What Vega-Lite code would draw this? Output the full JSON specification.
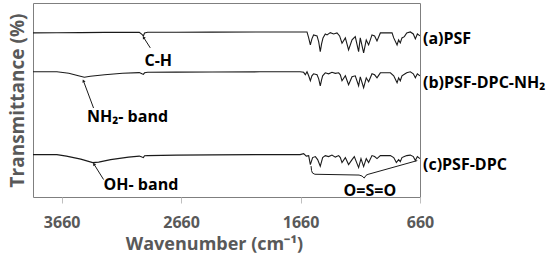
{
  "$schema": "https://vega.github.io/schema/vega-lite/v6.json",
  "width": 387,
  "height": 194,
  "autosize": {"type": "none"},
  "padding": {"left": 33, "top": 3, "right": 130, "bottom": 63},
  "background": "white",
  "config": {"view": {"stroke": "#7f7f7f", "strokeWidth": 1}, "font": "Open Sans"},
  "datasets": {
    "spectra": [
      {"s": "a", "wn": 3900, "T": 167}, {"s": "a", "wn": 3700, "T": 167.2}, {"s": "a", "wn": 3500, "T": 167.3}, {"s": "a", "wn": 3300, "T": 167.5}, {"s": "a", "wn": 3100, "T": 167.5}, {"s": "a", "wn": 3010, "T": 167.5}, {"s": "a", "wn": 2988, "T": 165.5}, {"s": "a", "wn": 2976, "T": 164}, {"s": "a", "wn": 2966, "T": 167}, {"s": "a", "wn": 2940, "T": 167.7}, {"s": "a", "wn": 2700, "T": 167.7}, {"s": "a", "wn": 2400, "T": 167.8}, {"s": "a", "wn": 2000, "T": 168}, {"s": "a", "wn": 1800, "T": 168}, {"s": "a", "wn": 1640, "T": 168}, {"s": "a", "wn": 1606, "T": 168}, {"s": "a", "wn": 1592, "T": 162}, {"s": "a", "wn": 1578, "T": 155}, {"s": "a", "wn": 1565, "T": 161}, {"s": "a", "wn": 1551, "T": 165}, {"s": "a", "wn": 1522, "T": 164}, {"s": "a", "wn": 1508, "T": 158}, {"s": "a", "wn": 1495, "T": 148.3}, {"s": "a", "wn": 1484, "T": 156}, {"s": "a", "wn": 1472, "T": 162}, {"s": "a", "wn": 1453, "T": 166}, {"s": "a", "wn": 1438, "T": 165}, {"s": "a", "wn": 1411, "T": 167.3}, {"s": "a", "wn": 1383, "T": 166}, {"s": "a", "wn": 1355, "T": 167}, {"s": "a", "wn": 1333, "T": 164}, {"s": "a", "wn": 1313, "T": 156.7}, {"s": "a", "wn": 1285, "T": 162}, {"s": "a", "wn": 1258, "T": 150}, {"s": "a", "wn": 1229, "T": 160}, {"s": "a", "wn": 1202, "T": 163.3}, {"s": "a", "wn": 1174, "T": 148.3}, {"s": "a", "wn": 1160, "T": 162}, {"s": "a", "wn": 1132, "T": 147}, {"s": "a", "wn": 1110, "T": 160}, {"s": "a", "wn": 1090, "T": 155}, {"s": "a", "wn": 1062, "T": 165}, {"s": "a", "wn": 1040, "T": 164}, {"s": "a", "wn": 1020, "T": 159}, {"s": "a", "wn": 992, "T": 167}, {"s": "a", "wn": 894, "T": 167}, {"s": "a", "wn": 880, "T": 162}, {"s": "a", "wn": 852, "T": 155}, {"s": "a", "wn": 839, "T": 160}, {"s": "a", "wn": 825, "T": 157}, {"s": "a", "wn": 811, "T": 162}, {"s": "a", "wn": 791, "T": 163.3}, {"s": "a", "wn": 771, "T": 167}, {"s": "a", "wn": 741, "T": 168}, {"s": "a", "wn": 716, "T": 166}, {"s": "a", "wn": 699, "T": 161}, {"s": "a", "wn": 682, "T": 166}, {"s": "a", "wn": 661, "T": 164},

      {"s": "b", "wn": 3900, "T": 128}, {"s": "b", "wn": 3700, "T": 128}, {"s": "b", "wn": 3600, "T": 126.5}, {"s": "b", "wn": 3520, "T": 124}, {"s": "b", "wn": 3470, "T": 122.5}, {"s": "b", "wn": 3420, "T": 123.5}, {"s": "b", "wn": 3300, "T": 125}, {"s": "b", "wn": 3150, "T": 126.5}, {"s": "b", "wn": 3010, "T": 127.2}, {"s": "b", "wn": 2988, "T": 126}, {"s": "b", "wn": 2976, "T": 125.5}, {"s": "b", "wn": 2966, "T": 127}, {"s": "b", "wn": 2940, "T": 127.5}, {"s": "b", "wn": 2700, "T": 127.7}, {"s": "b", "wn": 2400, "T": 127.8}, {"s": "b", "wn": 2000, "T": 128}, {"s": "b", "wn": 1664, "T": 128}, {"s": "b", "wn": 1634, "T": 127.5}, {"s": "b", "wn": 1620, "T": 125}, {"s": "b", "wn": 1606, "T": 128}, {"s": "b", "wn": 1592, "T": 124}, {"s": "b", "wn": 1578, "T": 119}, {"s": "b", "wn": 1565, "T": 124}, {"s": "b", "wn": 1551, "T": 126}, {"s": "b", "wn": 1522, "T": 125}, {"s": "b", "wn": 1508, "T": 121}, {"s": "b", "wn": 1495, "T": 114}, {"s": "b", "wn": 1484, "T": 120}, {"s": "b", "wn": 1475, "T": 124}, {"s": "b", "wn": 1453, "T": 127}, {"s": "b", "wn": 1425, "T": 126}, {"s": "b", "wn": 1397, "T": 127.5}, {"s": "b", "wn": 1369, "T": 126.5}, {"s": "b", "wn": 1341, "T": 127}, {"s": "b", "wn": 1327, "T": 125}, {"s": "b", "wn": 1313, "T": 119}, {"s": "b", "wn": 1285, "T": 124}, {"s": "b", "wn": 1258, "T": 115}, {"s": "b", "wn": 1229, "T": 123}, {"s": "b", "wn": 1202, "T": 124}, {"s": "b", "wn": 1174, "T": 114}, {"s": "b", "wn": 1160, "T": 123}, {"s": "b", "wn": 1132, "T": 112}, {"s": "b", "wn": 1110, "T": 122}, {"s": "b", "wn": 1090, "T": 118}, {"s": "b", "wn": 1062, "T": 126}, {"s": "b", "wn": 1040, "T": 125}, {"s": "b", "wn": 1020, "T": 122}, {"s": "b", "wn": 992, "T": 127}, {"s": "b", "wn": 908, "T": 127}, {"s": "b", "wn": 880, "T": 124}, {"s": "b", "wn": 852, "T": 117}, {"s": "b", "wn": 839, "T": 122}, {"s": "b", "wn": 825, "T": 119}, {"s": "b", "wn": 811, "T": 124}, {"s": "b", "wn": 791, "T": 125.5}, {"s": "b", "wn": 771, "T": 127}, {"s": "b", "wn": 741, "T": 128}, {"s": "b", "wn": 716, "T": 126}, {"s": "b", "wn": 699, "T": 122}, {"s": "b", "wn": 682, "T": 126}, {"s": "b", "wn": 661, "T": 124},

      {"s": "c", "wn": 3900, "T": 45}, {"s": "c", "wn": 3700, "T": 45}, {"s": "c", "wn": 3620, "T": 43.5}, {"s": "c", "wn": 3500, "T": 40.5}, {"s": "c", "wn": 3400, "T": 37}, {"s": "c", "wn": 3350, "T": 37.5}, {"s": "c", "wn": 3250, "T": 40}, {"s": "c", "wn": 3100, "T": 42.5}, {"s": "c", "wn": 3010, "T": 43.5}, {"s": "c", "wn": 2988, "T": 42.5}, {"s": "c", "wn": 2976, "T": 42}, {"s": "c", "wn": 2966, "T": 43.8}, {"s": "c", "wn": 2940, "T": 44}, {"s": "c", "wn": 2700, "T": 44.5}, {"s": "c", "wn": 2400, "T": 44.7}, {"s": "c", "wn": 2000, "T": 45}, {"s": "c", "wn": 1664, "T": 45}, {"s": "c", "wn": 1634, "T": 46}, {"s": "c", "wn": 1612, "T": 43.5}, {"s": "c", "wn": 1592, "T": 44}, {"s": "c", "wn": 1578, "T": 35}, {"s": "c", "wn": 1559, "T": 42}, {"s": "c", "wn": 1536, "T": 43}, {"s": "c", "wn": 1517, "T": 40}, {"s": "c", "wn": 1495, "T": 33.3}, {"s": "c", "wn": 1475, "T": 42}, {"s": "c", "wn": 1453, "T": 44}, {"s": "c", "wn": 1425, "T": 43}, {"s": "c", "wn": 1397, "T": 44.5}, {"s": "c", "wn": 1369, "T": 42.5}, {"s": "c", "wn": 1341, "T": 44}, {"s": "c", "wn": 1327, "T": 42}, {"s": "c", "wn": 1313, "T": 37}, {"s": "c", "wn": 1285, "T": 42}, {"s": "c", "wn": 1258, "T": 35}, {"s": "c", "wn": 1229, "T": 40}, {"s": "c", "wn": 1210, "T": 43}, {"s": "c", "wn": 1174, "T": 32}, {"s": "c", "wn": 1154, "T": 41}, {"s": "c", "wn": 1132, "T": 33}, {"s": "c", "wn": 1110, "T": 41}, {"s": "c", "wn": 1090, "T": 37}, {"s": "c", "wn": 1062, "T": 44}, {"s": "c", "wn": 1040, "T": 43}, {"s": "c", "wn": 1020, "T": 41}, {"s": "c", "wn": 992, "T": 44}, {"s": "c", "wn": 908, "T": 44}, {"s": "c", "wn": 880, "T": 42}, {"s": "c", "wn": 858, "T": 37}, {"s": "c", "wn": 839, "T": 40}, {"s": "c", "wn": 825, "T": 38}, {"s": "c", "wn": 811, "T": 42}, {"s": "c", "wn": 791, "T": 43}, {"s": "c", "wn": 771, "T": 44}, {"s": "c", "wn": 741, "T": 44.5}, {"s": "c", "wn": 716, "T": 43}, {"s": "c", "wn": 699, "T": 39}, {"s": "c", "wn": 682, "T": 43}, {"s": "c", "wn": 661, "T": 41}
    ],
    "brace": [
      {"wn": 1572, "T": 33.5}, {"wn": 1568, "T": 29}, {"wn": 1560, "T": 26.5}, {"wn": 1540, "T": 25.3}, {"wn": 1170, "T": 24.5}, {"wn": 1145, "T": 23.5}, {"wn": 1127, "T": 21.5}, {"wn": 1112, "T": 24.2}, {"wn": 1095, "T": 25.2}, {"wn": 683, "T": 39}
    ],
    "arrows": [
      {"id": "CH", "wn": 2918, "T": 152, "wn2": 2974, "T2": 162.5},
      {"id": "NH", "wn": 3393, "T": 91.7, "wn2": 3478, "T2": 119},
      {"id": "OH", "wn": 3309, "T": 20, "wn2": 3390, "T2": 35.5}
    ],
    "notesCenter": [
      {"wn": 2851, "T": 139, "label": "C-H"},
      {"wn": 1080, "T": 8.5, "label": "O=S=O"}
    ],
    "notesLeft": [
      {"wn": 3448, "T": 83, "label": "NH₂- band"},
      {"wn": 3309, "T": 15, "label": "OH- band"}
    ],
    "seriesLabels": [
      {"wn": 660, "T": 161, "label": "(a)PSF"},
      {"wn": 660, "T": 117, "label": "(b)PSF-DPC-NH₂"},
      {"wn": 660, "T": 35, "label": "(c)PSF-DPC"}
    ]
  },
  "encoding": {
    "x": {
      "field": "wn", "type": "quantitative",
      "scale": {"domain": [660, 3900], "reverse": true, "nice": false, "zero": false},
      "axis": {
        "title": "Wavenumber (cm⁻¹)", "values": [3660, 2660, 1660, 660], "format": "d",
        "grid": false, "domain": false, "ticks": true, "tickColor": "#bfbfbf", "tickSize": 6,
        "labelFlush": false, "labelOverlap": false,
        "labelFont": "Open Sans", "labelFontSize": 16, "labelFontWeight": "bold", "labelColor": "#595959", "labelPadding": 11,
        "titleFont": "Open Sans", "titleFontSize": 18, "titleFontWeight": "bold", "titleColor": "#595959", "titlePadding": 5,
        "titleAnchor": "middle", "titleX": 181
      }
    },
    "y": {
      "field": "T", "type": "quantitative",
      "scale": {"domain": [2.5, 197], "nice": false, "zero": false},
      "axis": {
        "title": "Transmittance (%)", "labels": false, "ticks": false, "domain": false, "grid": false,
        "titleFont": "Open Sans", "titleFontSize": 19, "titleFontWeight": "bold", "titleColor": "#595959", "titlePadding": 6
      }
    }
  },
  "layer": [
    {
      "data": {"name": "spectra"},
      "mark": {"type": "line", "color": "#1a1a1a", "strokeWidth": 1.1, "clip": true},
      "encoding": {"detail": {"field": "s", "type": "nominal"}}
    },
    {
      "data": {"name": "brace"},
      "mark": {"type": "line", "color": "#1a1a1a", "strokeWidth": 1},
      "encoding": {}
    },
    {
      "data": {"name": "arrows"},
      "mark": {"type": "rule", "color": "#1a1a1a", "strokeWidth": 1},
      "encoding": {"x2": {"field": "wn2"}, "y2": {"field": "T2"}}
    },
    {
      "data": {"name": "arrows"},
      "transform": [{"filter": "datum.id == 'CH'"}],
      "mark": {"type": "point", "shape": "triangle-up", "filled": true, "size": 12, "angle": 327, "color": "#1a1a1a", "opacity": 1},
      "encoding": {"x": {"field": "wn2", "type": "quantitative"}, "y": {"field": "T2", "type": "quantitative"}}
    },
    {
      "data": {"name": "arrows"},
      "transform": [{"filter": "datum.id == 'NH'"}],
      "mark": {"type": "point", "shape": "triangle-up", "filled": true, "size": 12, "angle": 337, "color": "#1a1a1a", "opacity": 1},
      "encoding": {"x": {"field": "wn2", "type": "quantitative"}, "y": {"field": "T2", "type": "quantitative"}}
    },
    {
      "data": {"name": "arrows"},
      "transform": [{"filter": "datum.id == 'OH'"}],
      "mark": {"type": "point", "shape": "triangle-up", "filled": true, "size": 12, "angle": 326, "color": "#1a1a1a", "opacity": 1},
      "encoding": {"x": {"field": "wn2", "type": "quantitative"}, "y": {"field": "T2", "type": "quantitative"}}
    },
    {
      "data": {"name": "notesCenter"},
      "mark": {"type": "text", "font": "Open Sans", "fontSize": 16, "fontWeight": "bold", "color": "#000000", "align": "center", "baseline": "middle"},
      "encoding": {"text": {"field": "label"}}
    },
    {
      "data": {"name": "notesLeft"},
      "mark": {"type": "text", "font": "Open Sans", "fontSize": 16, "fontWeight": "bold", "color": "#000000", "align": "left", "baseline": "middle"},
      "encoding": {"text": {"field": "label"}}
    },
    {
      "data": {"name": "seriesLabels"},
      "mark": {"type": "text", "font": "Open Sans", "fontSize": 16, "fontWeight": "bold", "color": "#000000", "align": "left", "baseline": "middle", "dx": 3},
      "encoding": {"text": {"field": "label"}}
    }
  ]
}
